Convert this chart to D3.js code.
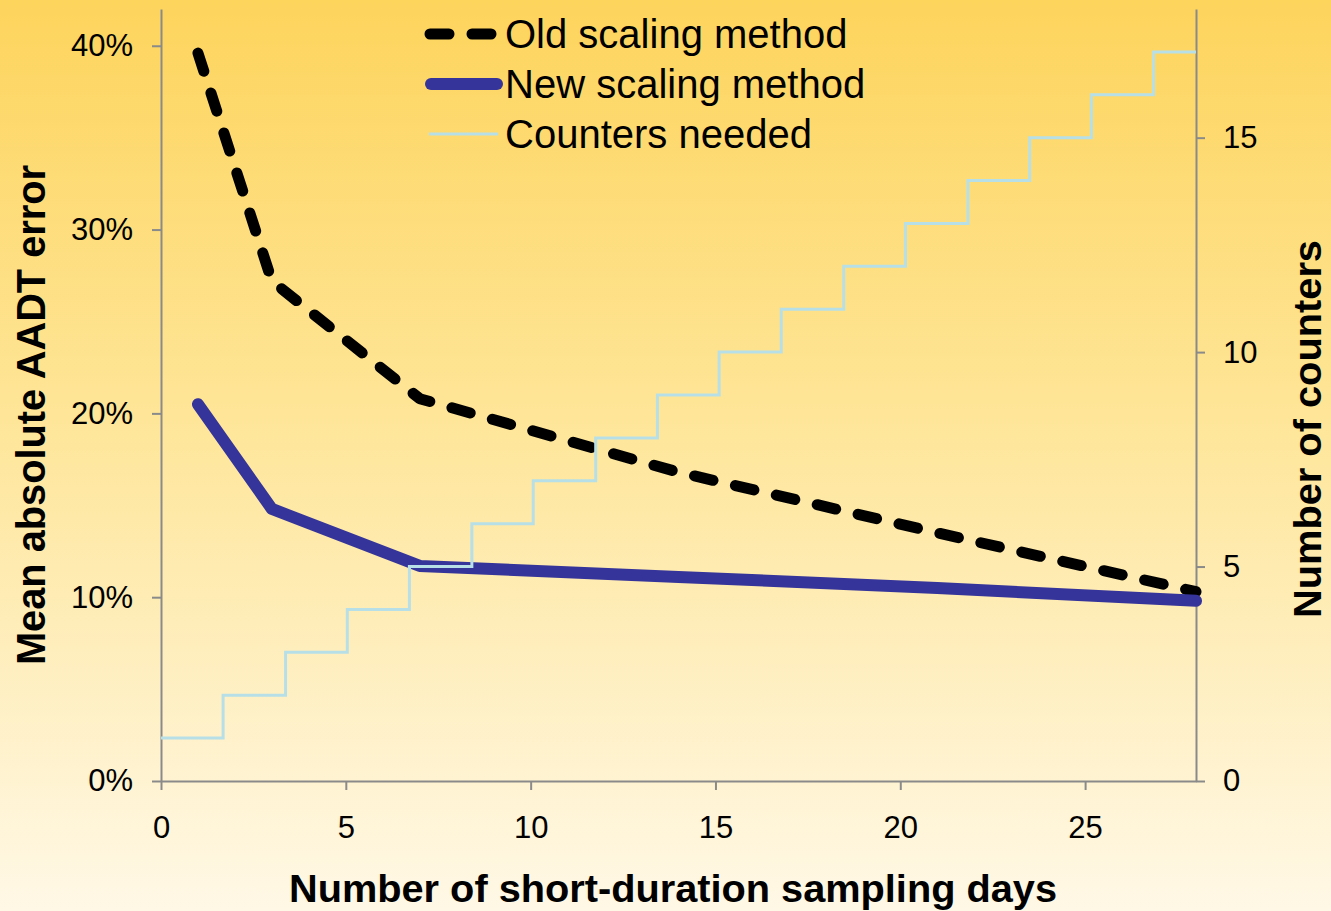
<!DOCTYPE html>
<html>
<head>
<meta charset="utf-8">
<script src="https://cdn.jsdelivr.net/npm/d3@7"></script>
<style>
  html, body { margin: 0; padding: 0; }
  body { width: 1331px; height: 911px; overflow: hidden; }
  svg { display: block; font-family: "Liberation Sans", Arial, Helvetica, sans-serif; }
</style>
</head>
<body>
<svg id="chart" width="1331" height="911"></svg>
<script>
// Sampling days and mean absolute AADT error for each method
const days = [1, 3, 7, 14, 21, 28];
const oldError = [0.396, 0.272, 0.208, 0.168, 0.135, 0.103];
const newError = [0.205, 0.148, 0.117, 0.111, 0.105, 0.098];

// Counters needed: day at which each count level begins
const counterStart = [0, 1.68, 3.37, 5.04, 6.72, 8.41, 10.07, 11.76, 13.43, 15.10, 16.78, 18.47, 20.14, 21.83, 23.50, 25.17, 26.85];
const counterCount = [1, 2, 3, 4, 5, 6, 7, 8, 9, 10, 11, 12, 13, 14, 15, 16, 17];
const counterEnd = 28;

// Axis ticks
const xTicks = [0, 5, 10, 15, 20, 25];
const errorTicks = [0, 0.1, 0.2, 0.3, 0.4];
const counterTicks = [0, 5, 10, 15];

const seriesNames = ["Old scaling method", "New scaling method", "Counters needed"];
const xTitle = "Number of short-duration sampling days";
const yLeftTitle = "Mean absolute AADT error";
const yRightTitle = "Number of counters";

const svg = d3.select("#chart");
const W = 1331, H = 911;
const plot = { left: 161, right: 1196, top: 9, bottom: 781 };

// background gradient
const defs = svg.append("defs");
const grad = defs.append("linearGradient").attr("id", "bg").attr("x1", 0).attr("y1", 0).attr("x2", 0).attr("y2", 1);
grad.append("stop").attr("offset", "0%").attr("stop-color", "#fdd45c");
grad.append("stop").attr("offset", "45%").attr("stop-color", "#fee597");
grad.append("stop").attr("offset", "100%").attr("stop-color", "#fff8e6");
svg.append("rect").attr("width", W).attr("height", H).attr("fill", "url(#bg)");

const x = d3.scaleLinear().domain([0, 28]).range([plot.left, plot.right]);
const yErr = d3.scaleLinear().domain([0, 0.42]).range([plot.bottom, plot.top]);
const yCnt = d3.scaleLinear().domain([0, 18]).range([plot.bottom, plot.top]);

const axisColor = "#8a8a8a";
function styleAxis(g) {
  g.selectAll(".domain").attr("stroke", axisColor).attr("stroke-width", 2);
  g.selectAll(".tick line").attr("stroke", axisColor).attr("stroke-width", 2);
  g.selectAll(".tick text").attr("fill", "#000").attr("font-size", 31)
    .attr("font-family", "'Liberation Sans', Arial, sans-serif");
}

// x axis
svg.append("g").attr("transform", `translate(0,${plot.bottom})`)
  .call(d3.axisBottom(x).tickValues(xTicks).tickFormat(d3.format("d")).tickSize(9).tickSizeOuter(0).tickPadding(26))
  .call(styleAxis);

// left axis
svg.append("g").attr("transform", `translate(${plot.left},0)`)
  .call(d3.axisLeft(yErr).tickValues(errorTicks).tickFormat(d3.format(".0%")).tickSize(9).tickSizeOuter(0).tickPadding(19))
  .call(styleAxis);

// right axis
svg.append("g").attr("transform", `translate(${plot.right},0)`)
  .call(d3.axisRight(yCnt).tickValues(counterTicks).tickFormat(d3.format("d")).tickSize(9).tickSizeOuter(0).tickPadding(18))
  .call(styleAxis);

// error lines
const errLine = d3.line().x(d => x(d[0])).y(d => yErr(d[1]));
svg.append("path")
  .datum(days.map((d, i) => [d, oldError[i]]))
  .attr("d", errLine)
  .attr("fill", "none").attr("stroke", "#000").attr("stroke-width", 11)
  .attr("stroke-linecap", "round").attr("stroke-linejoin", "round")
  .attr("stroke-dasharray", "19,23");

svg.append("path")
  .datum(days.map((d, i) => [d, newError[i]]))
  .attr("d", errLine)
  .attr("fill", "none").attr("stroke", "#35349a").attr("stroke-width", 12)
  .attr("stroke-linecap", "round").attr("stroke-linejoin", "round");

// counters needed step line
const counterPts = counterStart.map((d, i) => [d, counterCount[i]]);
counterPts.push([counterEnd, counterCount[counterCount.length - 1]]);
svg.append("path")
  .datum(counterPts)
  .attr("d", d3.line().x(d => x(d[0])).y(d => yCnt(d[1])).curve(d3.curveStepAfter))
  .attr("fill", "none").attr("stroke", "#b7dfe8").attr("stroke-width", 3);

// legend
const legend = svg.append("g");
const rowsY = [34, 84, 134];
legend.append("line").attr("x1", 430).attr("x2", 497).attr("y1", rowsY[0]).attr("y2", rowsY[0])
  .attr("stroke", "#000").attr("stroke-width", 11).attr("stroke-linecap", "round").attr("stroke-dasharray", "19,23");
legend.append("line").attr("x1", 431).attr("x2", 497).attr("y1", rowsY[1]).attr("y2", rowsY[1])
  .attr("stroke", "#35349a").attr("stroke-width", 12).attr("stroke-linecap", "round");
legend.append("line").attr("x1", 429).attr("x2", 498).attr("y1", rowsY[2]).attr("y2", rowsY[2])
  .attr("stroke", "#b7dfe8").attr("stroke-width", 3);
seriesNames.forEach((name, i) => {
  legend.append("text").attr("x", 505).attr("y", rowsY[i] + 14)
    .attr("font-size", 40).attr("fill", "#000").text(name);
});

// axis titles
svg.append("text").attr("x", 673).attr("y", 902).attr("text-anchor", "middle")
  .attr("font-size", 38).attr("font-weight", "bold").attr("fill", "#000")
  .attr("textLength", 768).attr("lengthAdjust", "spacingAndGlyphs")
  .text(xTitle);

svg.append("text").attr("transform", "translate(45,415) rotate(-90)").attr("text-anchor", "middle")
  .attr("font-size", 40).attr("font-weight", "bold").attr("fill", "#000")
  .attr("textLength", 500).attr("lengthAdjust", "spacingAndGlyphs")
  .text(yLeftTitle);

svg.append("text").attr("transform", "translate(1321,429) rotate(-90)").attr("text-anchor", "middle")
  .attr("font-size", 38).attr("font-weight", "bold").attr("fill", "#000")
  .attr("textLength", 378).attr("lengthAdjust", "spacingAndGlyphs")
  .text(yRightTitle);
</script>
</body>
</html>
